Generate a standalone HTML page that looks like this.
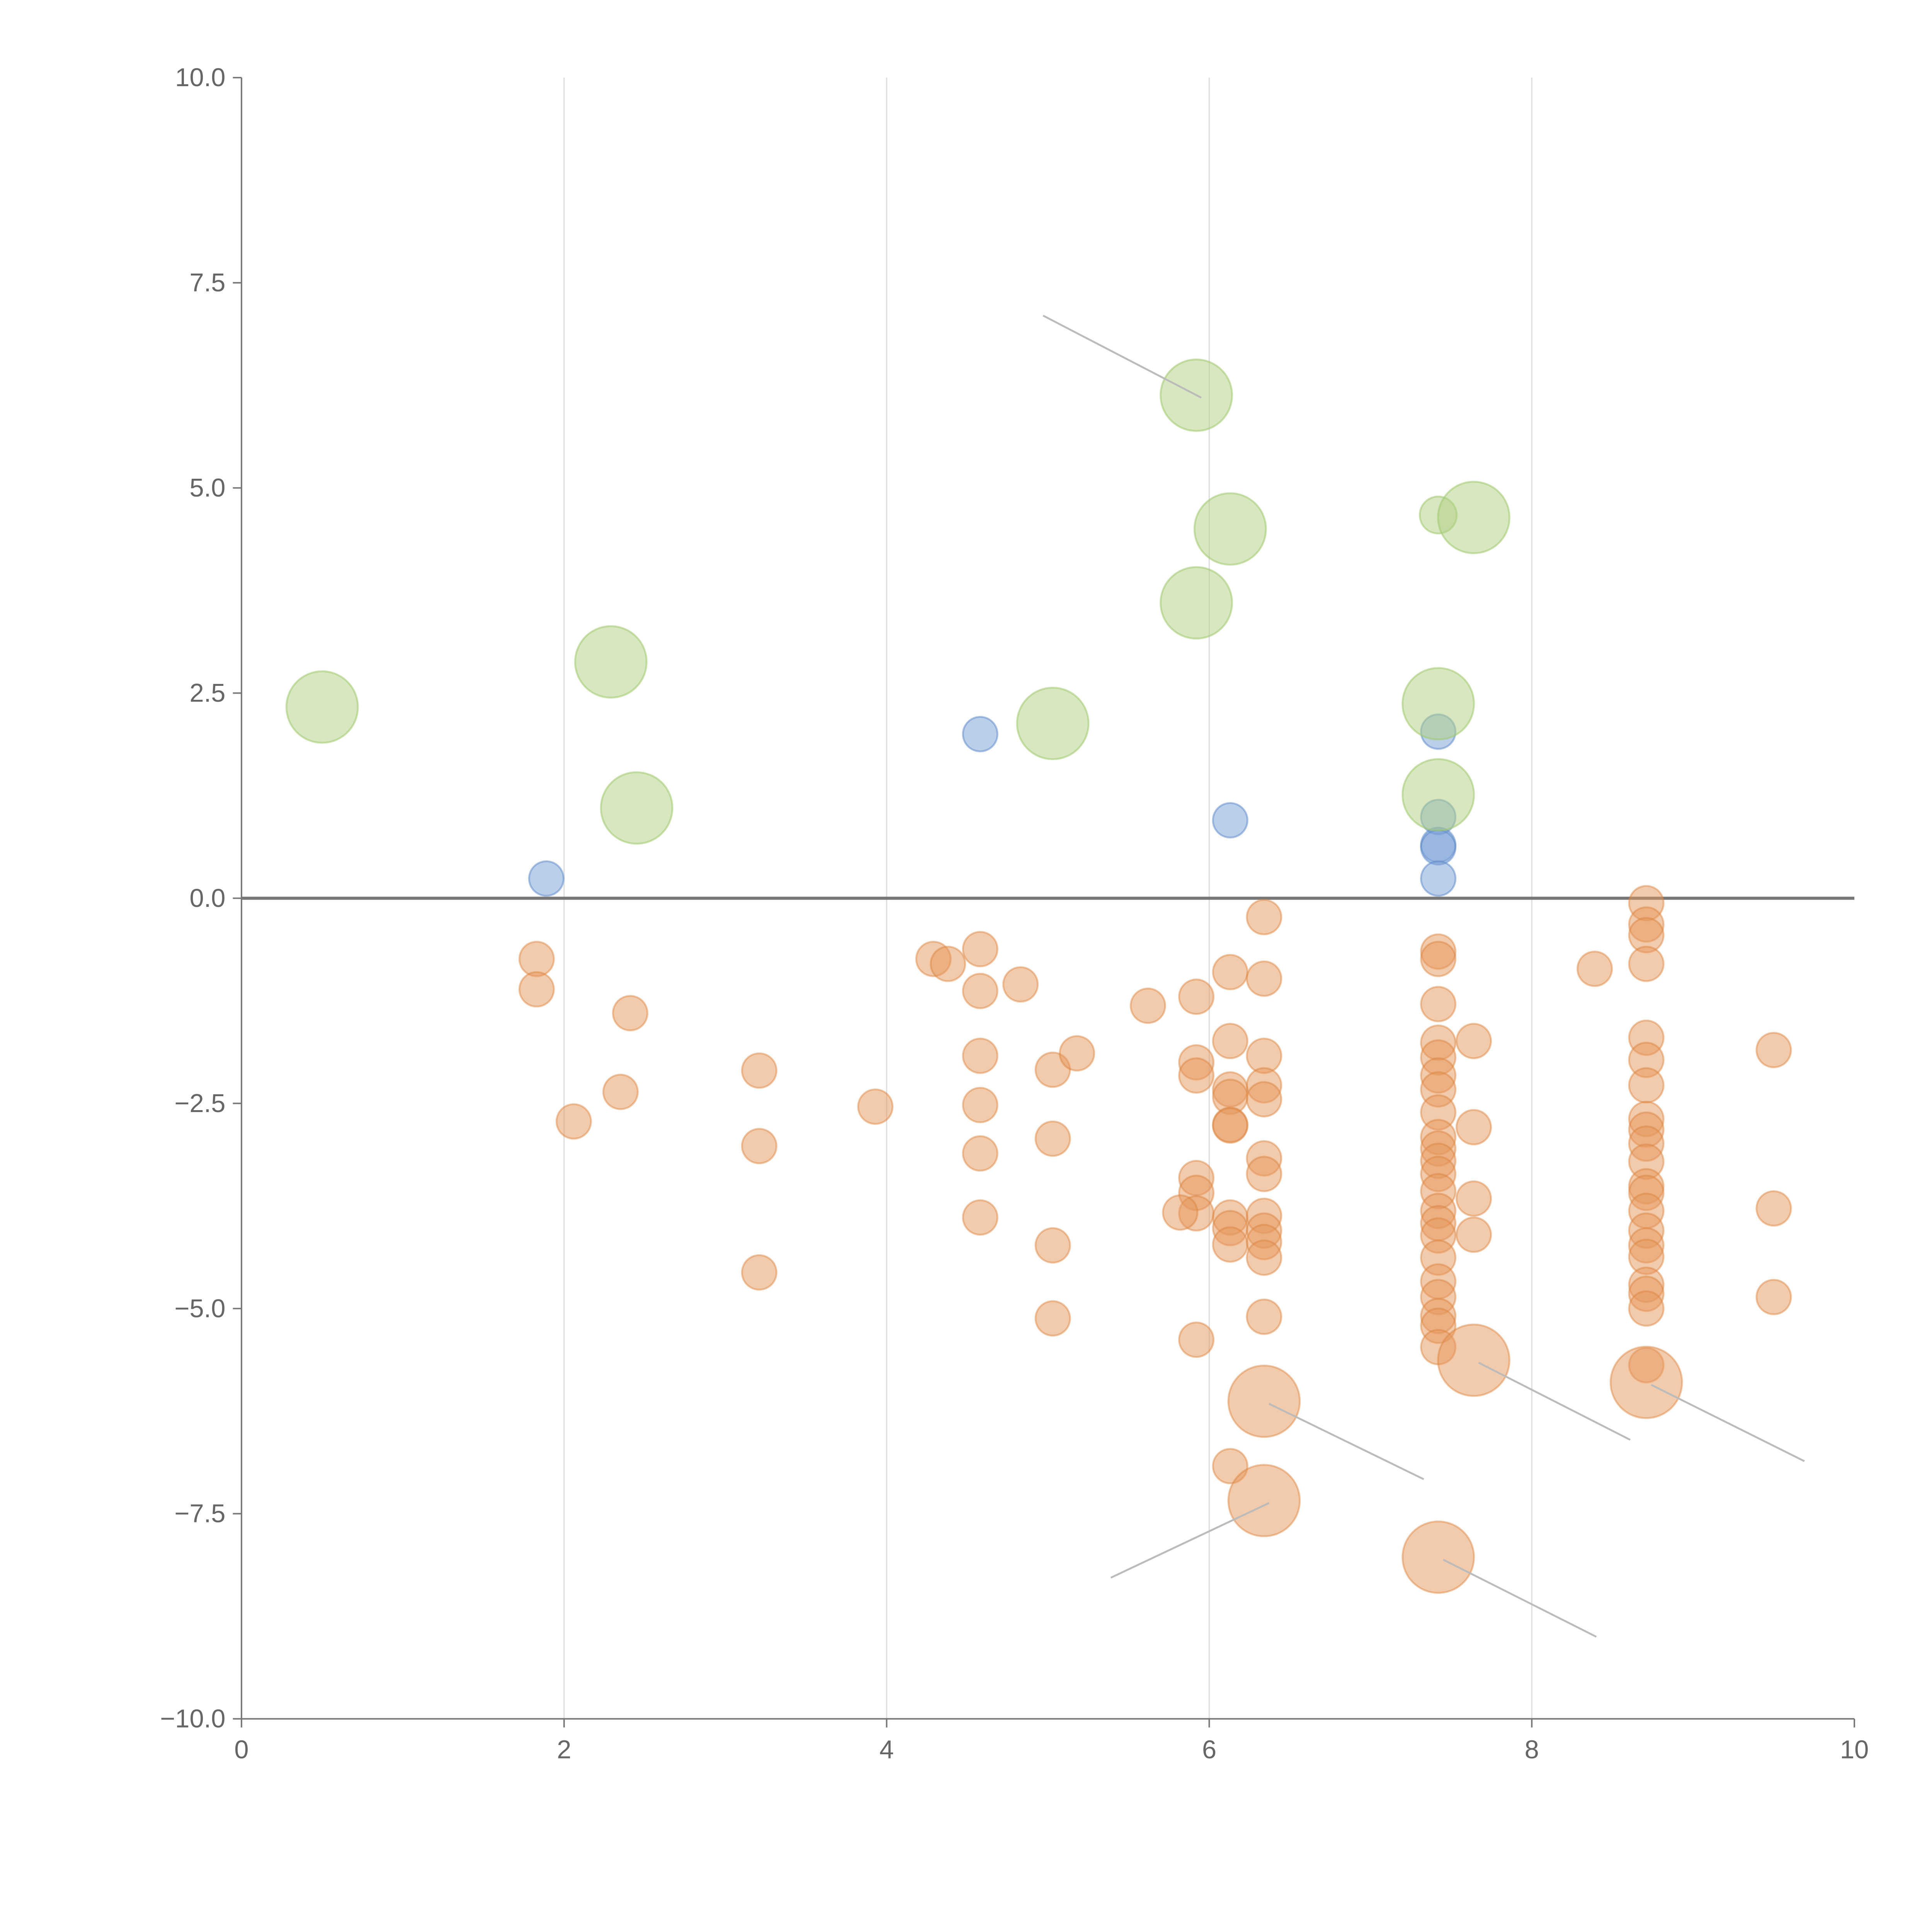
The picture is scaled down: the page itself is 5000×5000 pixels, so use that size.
<!DOCTYPE html>
<html><head><meta charset="utf-8"><style>
html,body{margin:0;padding:0;background:#fff;}
svg{display:block;}
text{font-family:"Liberation Sans",sans-serif;fill:#666;}
</style></head><body>
<svg id="chart" width="5000" height="5000" viewBox="0 0 1568 1568" xmlns="http://www.w3.org/2000/svg"></svg>
<script>
const xTicks=[0,2,4,6,8,10];
const yTicks=[10,7.5,5,2.5,0,-2.5,-5,-7.5,-10];
const greenX=[0.5,2.29,2.45,5.03,5.92,6.13,5.92,7.42,7.64,7.42,7.42];
const greenY=[2.33,2.88,1.1,2.13,6.13,4.5,3.6,4.67,4.64,2.37,1.26];
const greenBig=[1,1,1,1,1,1,1,0,1,1,1];
const blueX=[1.89,4.58,6.13,7.42,7.42,7.42,7.42,7.42];
const blueY=[0.24,2.0,0.95,2.03,0.99,0.65,0.62,0.24];
const orangeX=[1.83,1.83,2.06,2.35,2.41,3.21,3.21,3.21,3.93,4.29,4.38,4.58,4.58,4.58,4.58,4.58,4.58,4.83,5.03,5.03,5.03,5.03,5.18,5.62,
5.92,5.92,5.92,5.92,5.92,5.92,5.92,5.82,
6.13,6.13,6.13,6.13,6.13,6.13,6.13,6.13,6.13,6.13,
6.34,6.34,6.34,6.34,6.34,6.34,6.34,6.34,6.34,6.34,6.34,6.34,
7.42,7.42,7.42,7.42,7.42,7.42,7.42,7.42,7.42,7.42,7.42,7.42,7.42,7.42,7.42,7.42,7.42,7.42,7.42,7.42,7.42,7.42,
7.64,7.64,7.64,7.64,8.39,
8.71,8.71,8.71,8.71,8.71,8.71,8.71,8.71,8.71,8.71,8.71,8.71,8.71,8.71,8.71,8.71,8.71,8.71,8.71,8.71,8.71,
9.5,9.5,9.5];
const orangeY=[-0.74,-1.11,-2.72,-2.36,-1.4,-2.1,-3.02,-4.56,-2.54,-0.74,-0.8,-0.62,-1.13,-1.92,-2.52,-3.11,-3.89,-1.05,-2.09,-2.93,-4.23,-5.12,-1.89,-1.31,
-1.2,-2.0,-2.16,-3.41,-3.59,-3.84,-5.38,-3.83,
-0.9,-1.74,-2.33,-2.42,-2.76,-2.77,-3.89,-4.02,-4.22,-6.92,
-0.23,-0.98,-1.92,-2.28,-2.45,-3.17,-3.36,-3.87,-4.05,-4.19,-4.38,-5.1,
-0.65,-0.74,-1.29,-1.76,-1.94,-2.16,-2.33,-2.61,-2.91,-3.05,-3.2,-3.36,-3.57,-3.81,-3.96,-4.11,-4.38,-4.67,-4.86,-5.09,-5.21,-5.47,
-1.74,-2.79,-3.66,-4.1,-0.86,
-0.06,-0.32,-0.45,-0.8,-1.7,-1.97,-2.28,-2.69,-2.82,-2.99,-3.21,-3.51,-3.59,-3.81,-4.05,-4.23,-4.37,-4.71,-4.82,-5.0,-5.69,
-1.85,-3.78,-4.86];
const bigOrangeX=[6.34,6.34,7.64,8.71,7.42];
const bigOrangeY=[-6.13,-7.34,-5.63,-5.9,-8.03];
// leader line ends (data units): from point to label anchor
const leadFromX=[5.92,6.34,6.34,7.64,8.71,7.42];
const leadFromY=[6.13,-6.13,-7.34,-5.63,-5.9,-8.03];
const leadToX=[4.97,7.33,5.39,8.61,9.69,8.4];
const leadToY=[7.1,-7.08,-8.28,-6.6,-6.86,-9.0];

const NS="http://www.w3.org/2000/svg";
const svg=document.getElementById('chart');
const X0=196,X1=1505,Y0=1395,Y1=63;
const sx=v=>X0+(v-0)/(10-0)*(X1-X0);
const sy=v=>Y0-(v+10)/20*(Y0-Y1);
function mk(tag,attrs){const e=document.createElementNS(NS,tag);for(const k in attrs)e.setAttribute(k,attrs[k]);svg.appendChild(e);return e;}
function fmtY(v){const s=Math.abs(v).toFixed(1);return (v<0?"\u2212":"")+s;}

xTicks.forEach(t=>{
 if(t>0&&t<10){const g=mk('line',{x1:sx(t),x2:sx(t),y1:Y1,y2:Y0,stroke:'#dddddd','stroke-width':1});
 
 }
});
const ax=mk('line',{x1:X0,x2:X0,y1:Y1,y2:Y0,stroke:'#777','stroke-width':1.2});


const bx=mk('line',{x1:X0,x2:X1,y1:Y0,y2:Y0,stroke:'#777','stroke-width':1.2});


xTicks.forEach(t=>{
 const tk=mk('line',{x1:sx(t),x2:sx(t),y1:Y0,y2:Y0+7,stroke:'#777','stroke-width':1.2});
 
 
 const tx=mk('text',{x:sx(t),y:Y0+32,'text-anchor':'middle','font-size':21});
 tx.textContent=String(t);
 
 
});
yTicks.forEach(t=>{
 const tk=mk('line',{x1:X0-7,x2:X0,y1:sy(t),y2:sy(t),stroke:'#777','stroke-width':1.2});
 
 
 const tx=mk('text',{x:X0-13,y:sy(t)+7,'text-anchor':'end','font-size':21});
 tx.textContent=fmtY(t);
 
 
});
const zl=mk('line',{x1:X0,x2:X1,y1:sy(0),y2:sy(0),stroke:'#777','stroke-width':2.5});



orangeX.forEach((x,i)=>{
 const c=mk('circle',{cx:sx(x),cy:sy(orangeY[i]),r:14,fill:'rgba(230,150,90,0.5)',stroke:'rgba(220,130,60,0.45)','stroke-width':1.5});
 
 
});
bigOrangeX.forEach((x,i)=>{
 const c=mk('circle',{cx:sx(x),cy:sy(bigOrangeY[i]),r:29,fill:'rgba(230,150,90,0.5)',stroke:'rgba(220,130,60,0.45)','stroke-width':1.5});
 
 
});
blueX.forEach((x,i)=>{
 const c=mk('circle',{cx:sx(x),cy:sy(blueY[i]),r:14,fill:'rgba(120,160,215,0.5)',stroke:'rgba(90,135,200,0.5)','stroke-width':1.5});
 
 
});
greenX.forEach((x,i)=>{
 const c=mk('circle',{cx:sx(x),cy:sy(greenY[i]),r:greenBig[i]?29:15,fill:'rgba(175,208,130,0.5)',stroke:'rgba(160,200,110,0.55)','stroke-width':1.5});
 
 
});
leadFromX.forEach((x,i)=>{
 const l=mk('line',{x1:sx(x)+4,y1:sy(leadFromY[i])+2,x2:sx(leadToX[i]),y2:sy(leadToY[i]),stroke:'#bbbbbb','stroke-width':1.5});
 
 
});
</script>
</body></html>
